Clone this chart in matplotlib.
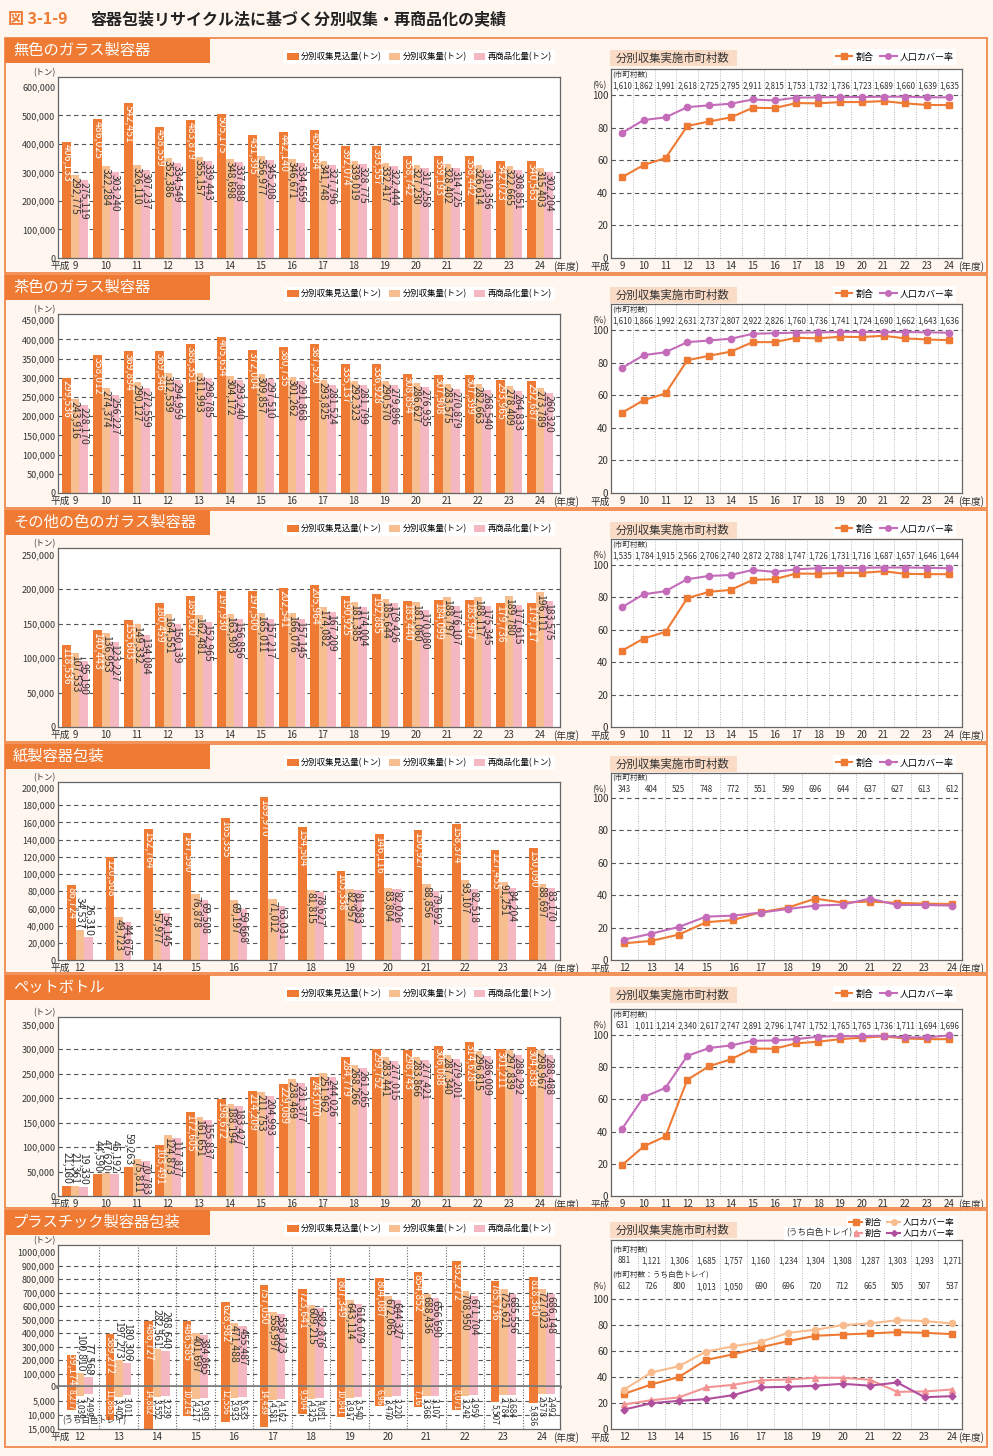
import numpy as np
import matplotlib.pyplot as plt
from matplotlib.patches import Rectangle
from matplotlib.lines import Line2D
from matplotlib.transforms import offset_copy

plt.rcParams['font.family'] = ['Noto Sans CJK JP', 'DejaVu Sans']

W, H = 993, 1456

ORANGE = '#ee7a33'
PEACH = '#f7bf90'
PINK = '#f5b8c2'
PURPLE = '#c46cb9'
LIGHT_OR = '#f8bc8e'
SALMON = '#f29494'
VIOLET = '#b14f9f'
DARK = '#333333'
BG = '#fef6ef'

# ---------------- data ----------------
years_h9 = list(range(9, 25))
years_h12 = list(range(12, 25))

# 無色のガラス製容器
clear_plan = [406133, 486025, 542451, 458559, 483879, 505175, 431395, 442140,
              450584, 392074, 393557, 358742, 359193, 358442, 342023, 340563]
clear_coll = [292775, 322284, 326110, 352386, 355157, 348698, 356977, 346671,
              341748, 339019, 332417, 327230, 328402, 326614, 322665, 315403]
clear_reco = [275119, 303240, 307237, 334549, 339443, 337888, 345208, 334659,
              327796, 328775, 322444, 317258, 314725, 310356, 308851, 302204]
clear_rate = [49.5, 57.1, 61.3, 81.0, 83.8, 86.3, 92.2, 92.0, 95.1, 94.9, 95.7, 95.7, 96.3, 94.9, 93.9, 93.9]
clear_cover = [76.7, 84.7, 86.3, 92.6, 93.7, 94.7, 97.3, 96.7, 98.4, 98.6, 98.8, 98.8, 99.0, 99.0, 98.6, 98.6]
clear_towns = [1610, 1862, 1991, 2618, 2725, 2795, 2911, 2815, 1753, 1732, 1736, 1723, 1689, 1660, 1639, 1635]

# 茶色のガラス製容器
brown_plan = [299536, 358012, 369894, 369346, 388351, 405634, 372004, 380735,
              387520, 335137, 336928, 308854, 307908, 307399, 293965, 292687]
brown_coll = [243916, 274374, 290127, 312539, 311993, 304172, 309857, 301262,
              293825, 292323, 290570, 286627, 283575, 282663, 278409, 273789]
brown_reco = [228170, 256227, 272559, 294959, 298785, 293240, 297510, 291868,
              281524, 281799, 279896, 276935, 270879, 268540, 264833, 260320]
brown_rate = [49.2, 57.0, 61.1, 81.5, 84.2, 86.8, 92.6, 92.6, 95.3, 94.9, 95.9, 95.7, 96.5, 94.9, 94.2, 93.8]
brown_cover = [76.7, 84.6, 86.4, 92.6, 93.6, 94.7, 97.7, 98.1, 98.4, 98.6, 98.8, 98.8, 98.8, 98.8, 98.6, 98.4]
brown_towns = [1610, 1866, 1992, 2631, 2737, 2807, 2922, 2826, 1760, 1736, 1741, 1724, 1690, 1662, 1643, 1636]

# その他の色のガラス製容器
other_plan = [118536, 140443, 155603, 180459, 189620, 197930, 197500, 202541,
              205964, 190925, 192885, 183440, 184099, 183967, 179736, 179717]
other_coll = [107533, 136953, 149332, 164551, 162481, 163903, 165011, 166076,
              174082, 181385, 185644, 181060, 188797, 188117, 189780, 196111]
other_reco = [95190, 123227, 134084, 150139, 152965, 156856, 157217, 157145,
              167209, 174004, 179426, 170080, 176107, 175345, 177615, 183575]
other_rate = [47.0, 54.6, 58.7, 79.5, 83.4, 84.6, 90.8, 91.2, 94.7, 94.5, 95.1, 95.1, 96.1, 94.5, 94.3, 94.3]
other_cover = [73.9, 81.9, 83.8, 91.2, 93.2, 93.8, 96.9, 95.7, 97.3, 98.0, 98.2, 98.2, 98.4, 98.4, 98.2, 98.0]
other_towns = [1535, 1784, 1915, 2566, 2706, 2740, 2872, 2788, 1747, 1726, 1731, 1716, 1687, 1657, 1646, 1644]

# 紙製容器包装
paper_plan = [86724, 120308, 152764, 147590, 165355, 189970, 154504, 103338, 146116, 150927, 158374, 127455, 130090]
paper_coll = [34537, 49723, 57977, 76878, 69197, 71012, 81815, 82957, 83804, 88856, 93107, 91251, 88697]
paper_reco = [26310, 44675, 54145, 69508, 59668, 63031, 78627, 81383, 82026, 79692, 82518, 84204, 83170]
paper_rate = [10.3, 11.8, 15.7, 23.3, 24.7, 29.5, 32.4, 37.9, 35.5, 36.1, 35.3, 34.8, 34.6]
paper_cover = [12.6, 16.3, 20.4, 26.8, 27.4, 29.3, 31.5, 33.6, 34.2, 37.9, 34.0, 34.0, 33.6]
paper_towns = [343, 404, 525, 748, 772, 551, 599, 696, 644, 637, 627, 613, 612]

# ペットボトル
pet_plan = [21180, 44590, 59263, 103491, 172605, 198672, 214209, 229089,
            243070, 284779, 299752, 298743, 306088, 314628, 301211, 304838]
pet_coll = [21361, 47620, 75811, 124873, 161651, 188194, 211753, 238469,
            251962, 268266, 283441, 283866, 287340, 296815, 297839, 298967]
pet_reco = [19330, 45192, 70783, 117877, 155837, 183427, 204993, 231377,
            244026, 261265, 277015, 277421, 279201, 286009, 288292, 288488]
pet_rate = [19.1, 30.8, 37.0, 72.1, 80.5, 84.8, 91.4, 91.4, 94.7, 95.7, 97.3, 98.2, 99.0, 97.7, 97.3, 97.3]
pet_cover = [41.5, 61.4, 67.1, 86.9, 91.8, 93.4, 96.3, 96.5, 97.3, 98.8, 99.2, 99.2, 99.4, 98.4, 98.4, 99.6]
pet_towns = [631, 1011, 1214, 2340, 2617, 2747, 2891, 2796, 1747, 1752, 1765, 1765, 1736, 1711, 1694, 1696]

# プラスチック製容器包装
plastic_plan = [239174, 389272, 486727, 486585, 628982, 757050, 723641, 807349, 804087, 854852, 932272, 785736, 818380]
plastic_coll = [100810, 197273, 282561, 401697, 471488, 558997, 609215, 643114, 672065, 688436, 708950, 725621, 727023]
plastic_reco = [77568, 180306, 268640, 384865, 455487, 538123, 582876, 616079, 644327, 656690, 671704, 685556, 686148]
tray_plan = [8277, 11865, 14882, 10214, 12556, 14439, 9504, 10841, 6960, 7167, 8071, 5507, 5636]
tray_coll = [3039, 3402, 3552, 4217, 3933, 4581, 4325, 3917, 3470, 3368, 3242, 2784, 2578]
tray_reco = [2499, 3011, 3239, 3993, 3633, 4162, 4051, 3540, 3220, 3107, 2959, 2684, 2492]
plastic_rate = [27.0, 34.2, 39.8, 53.0, 57.3, 62.7, 67.4, 71.5, 72.5, 73.3, 74.3, 73.8, 72.8]
plastic_cover = [30.3, 43.4, 48.1, 59.4, 63.5, 66.8, 73.8, 76.1, 79.7, 81.0, 83.5, 82.8, 81.0]
tray_rate = [18.8, 22.1, 24.2, 31.9, 33.9, 37.3, 38.0, 39.3, 39.3, 37.8, 28.5, 28.8, 30.3]
tray_cover = [14.9, 19.8, 21.6, 22.9, 26.0, 31.9, 32.4, 33.2, 34.7, 33.2, 35.7, 24.4, 25.2]
plastic_towns = [881, 1121, 1306, 1685, 1757, 1160, 1234, 1304, 1308, 1287, 1303, 1293, 1271]
tray_towns = [612, 726, 800, 1013, 1050, 690, 696, 720, 712, 665, 505, 507, 537]

bar_names = ['分別収集見込量(トン)', '分別収集量(トン)', '再商品化量(トン)']

# ---------------- figure ----------------
fig = plt.figure(figsize=(W / 100, H / 100), dpi=100)
fig.patch.set_facecolor(BG)
renderer = fig.canvas.get_renderer()


def frac(x0, y0, x1, y1):
    return [x0 / W, 1 - y1 / H, (x1 - x0) / W, (y1 - y0) / H]


def fig_box(x0, y0, x1, y1, **kw):
    fig.add_artist(Rectangle((x0 / W, 1 - y1 / H), (x1 - x0) / W, (y1 - y0) / H,
                             transform=fig.transFigure, **kw))


def frame(top, bottom, title):
    fig_box(5, top, 987, bottom, fill=False, ec='#f0894a', lw=1.3)
    fig_box(5, top, 210, top + 25, fc=ORANGE, ec='none')
    fig.text(13 / W, 1 - (top + 12.5) / H, title, color='white', fontsize=11, va='center')
    fig_box(610, top + 12, 737, top + 28, fc='#f9dbc6', ec='none')
    fig.text(616 / W, 1 - (top + 20) / H, '分別収集実施市町村数', color=DARK, fontsize=8.2, va='center')


def style_spines(ax):
    for s in ax.spines.values():
        s.set_color('#666666')
        s.set_linewidth(0.9)


def bar_axes(box, ytop, step, xlim, top_label=None):
    ax = fig.add_axes(frac(*box))
    ax.set_facecolor('white')
    ax.set_xlim(*xlim)
    ax.set_ylim(0, ytop)
    ticks = np.arange(0, ytop + 1, step)
    labels = [f'{int(t):,}' for t in ticks]
    if top_label:
        labels[-1] = top_label
    ax.set_yticks(ticks, labels)
    for t in ticks[1:-1]:
        ax.axhline(t, color='#555555', lw=0.8, ls=(0, (4, 3)), zorder=1)
    ax.tick_params(length=0, labelsize=6.5, pad=2, colors=DARK)
    ax.text(-0.028, 1.0, '(トン)', transform=ax.transAxes, ha='center', va='bottom', fontsize=6, color=DARK)
    style_spines(ax)
    return ax


def year_ticks(ax, years, left_x, right_x, ticks=None, pad=2):
    ax.set_xticks(years if ticks is None else ticks, [str(y) for y in years])
    ax.tick_params(axis='x', length=0, labelsize=7, pad=pad)
    ax.annotate('平成', xy=(left_x, 0), xycoords='axes fraction', xytext=(0, -pad),
                textcoords='offset points', ha='center', va='top', fontsize=7, color=DARK)
    ax.annotate('(年度)', xy=(right_x, 0), xycoords='axes fraction', xytext=(0, -pad),
                textcoords='offset points', ha='left', va='top', fontsize=7, color=DARK)


def value_label(ax, x, v, inside_color, fs, lower=False, force_inside=False):
    base = ax.transData
    t = ax.text(x, v, f'{v:,}', rotation=270, ha='center', va='top', fontsize=fs,
                color=inside_color, zorder=3, clip_on=False,
                transform=offset_copy(base, fig=fig, y=-2, units='dots'))
    length = t.get_window_extent(renderer).height
    bar_px = abs(base.transform((0, v))[1] - base.transform((0, 0))[1])
    if lower:
        if inside_color == 'white' and bar_px >= 0.75 * length:
            t.set_y(0)
        else:
            t.set_color(DARK)
    elif bar_px < length + 2:
        if force_inside:
            t.set_y(0)
            t.set_va('bottom')
            t.set_transform(offset_copy(base, fig=fig, y=1, units='dots'))
        else:
            t.set_va('bottom')
            t.set_color(DARK)
            t.set_transform(offset_copy(base, fig=fig, y=2, units='dots'))


def draw_bars(ax, plan, coll, reco, width, fs=7.5, lower=False, force_plan=False):
    x = np.arange(len(plan))
    bars = [ax.bar(x - width, plan, width, color=ORANGE, zorder=2),
            ax.bar(x, coll, width, color=PEACH, zorder=2),
            ax.bar(x + width, reco, width, color=PINK, zorder=2)]
    for off, vals, col in [(-width, plan, 'white'), (0, coll, DARK), (width, reco, DARK)]:
        for xi, v in zip(x + off, vals):
            value_label(ax, xi, v, col, fs, lower, force_plan and col == 'white')
    return bars


def bar_legend(ax, bars, top):
    ax.legend(bars, bar_names, loc='center right', bbox_to_anchor=(559 / W, 1 - (top + 19) / H),
              bbox_transform=fig.transFigure, ncol=3, fontsize=6, frameon=True, facecolor='white',
              edgecolor='none', framealpha=1, fancybox=False, handlelength=1.4, handleheight=0.9,
              columnspacing=0.8, handletextpad=0.3, borderpad=0.35)


def line_axes(box, years, ytop, xpad):
    ax = fig.add_axes(frac(*box))
    ax.set_facecolor('white')
    ax.set_xlim(years[0] - xpad[0], years[-1] + xpad[1])
    ax.set_ylim(0, ytop)
    ax.set_yticks(range(0, 101, 20))
    ax.tick_params(length=0, labelsize=7, pad=2, colors=DARK)
    for g in range(20, 101, 20):
        ax.axhline(g, color='#555555', lw=0.8, ls=(0, (4, 3)), zorder=1)
    for m in years[:-1]:
        ax.axvline(m + 0.5, color='#b8b8b8', lw=0.7, ls=(0, (1, 1.5)), zorder=0.5)
    style_spines(ax)
    year_ticks(ax, years, -0.032, 0.989, pad=2.5)
    return ax


def town_row(ax, years, towns, y, head, head_y):
    ax.text(0.004, head_y, head, transform=ax.get_yaxis_transform(), fontsize=5.5,
            va='center', ha='left', color=DARK)
    for yr, c in zip(years, towns):
        ax.text(yr, y, f'{c:,}', fontsize=5.7, ha='center', va='center', color=DARK)


def line_legend(ax, top):
    h = [Line2D([], [], color=ORANGE, marker='s', ms=4, lw=1.5),
         Line2D([], [], color=PURPLE, marker='o', ms=4, lw=1.5)]
    ax.legend(h, ['割合', '人口カバー率'], loc='center right', bbox_to_anchor=(961 / W, 1 - (top + 19) / H),
              bbox_transform=fig.transFigure, ncol=2, fontsize=6.5, frameon=True, facecolor='white',
              edgecolor='none', framealpha=1, fancybox=False, handlelength=1.8,
              columnspacing=0.8, handletextpad=0.3, borderpad=0.35)


def standard_panel(top, bottom, title, years, plan, coll, reco, rate, cover, towns,
                   bar_box, bar_ytop, bar_step, line_box, line_ytop):
    frame(top, bottom, title)
    n = len(years)
    wide = n > 13
    ax = bar_axes(bar_box, bar_ytop, bar_step, (-0.55, n - 0.35) if wide else (-0.57, n - 0.53))
    bars = draw_bars(ax, plan, coll, reco, 0.275 if wide else 0.223)
    year_ticks(ax, years, 0.004, 0.986, ticks=np.arange(n))
    bar_legend(ax, bars, top)

    lax = line_axes(line_box, years, line_ytop, (0.5, 0.6) if wide else (0.48, 0.37))
    lax.plot(years, rate, color=ORANGE, marker='s', ms=4.5, lw=1.5, zorder=3)
    lax.plot(years, cover, color=PURPLE, marker='o', ms=4.5, lw=1.5, zorder=3)
    town_row(lax, years, towns, 105.5, '(市町村数)', 112.5)
    lax.text(-0.012, 105.5, '(%)', transform=lax.get_yaxis_transform(), ha='right', va='center',
             fontsize=6.5, color=DARK)
    line_legend(lax, top)


# title
fig.text(8 / W, 1 - 19 / H, '図 3-1-9', color=ORANGE, fontsize=11.5, va='center', fontweight='bold')
fig.text(90 / W, 1 - 19 / H, '容器包装リサイクル法に基づく分別収集・再商品化の実績',
         color='#222222', fontsize=11.5, va='center', fontweight='bold')

standard_panel(38, 273, '無色のガラス製容器', years_h9, clear_plan, clear_coll, clear_reco,
               clear_rate, clear_cover, clear_towns, (58, 77, 560, 258), 635000, 100000,
               (611, 69, 962, 258), 116)
standard_panel(275, 508, '茶色のガラス製容器', years_h9, brown_plan, brown_coll, brown_reco,
               brown_rate, brown_cover, brown_towns, (58, 314, 560, 493), 466000, 50000,
               (611, 304, 962, 493), 116)
standard_panel(510, 742, 'その他の色のガラス製容器', years_h9, other_plan, other_coll, other_reco,
               other_rate, other_cover, other_towns, (58, 548, 560, 727), 260000, 50000,
               (611, 539, 962, 727), 116)
standard_panel(744, 973, '紙製容器包装', years_h12, paper_plan, paper_coll, paper_reco,
               paper_rate, paper_cover, paper_towns, (58, 782, 560, 960), 207000, 20000,
               (611, 773, 962, 960), 115.5)
standard_panel(975, 1208, 'ペットボトル', years_h9, pet_plan, pet_coll, pet_reco,
               pet_rate, pet_cover, pet_towns, (58, 1017, 560, 1196), 366000, 50000,
               (611, 1009, 962, 1196), 116)

# ---------------- プラスチック製容器包装 ----------------
top, bottom = 1210, 1447
frame(top, bottom, 'プラスチック製容器包装')
n = len(years_h12)
xl = (-0.57, n - 0.53)
up = bar_axes((58, 1245, 560, 1387), 1052000, 100000, xl, top_label='1000,000')
up.spines['bottom'].set_visible(False)
up.set_xticks([])
bars = draw_bars(up, plastic_plan, plastic_coll, plastic_reco, 0.223, force_plan=True)
bar_legend(up, bars, top)

lo = fig.add_axes(frac(58, 1387, 560, 1429))
lo.set_facecolor('white')
lo.set_xlim(*xl)
lo.set_ylim(15000, 0)
lo.set_yticks([5000, 10000, 15000], ['5,000', '10,000', '15,000'])
lo.tick_params(length=0, labelsize=6.5, pad=2, colors=DARK)
for t in [5000, 10000]:
    lo.axhline(t, color='#555555', lw=0.8, ls=(0, (4, 3)), zorder=1)
style_spines(lo)
lo.spines['top'].set_visible(False)
draw_bars(lo, tray_plan, tray_coll, tray_reco, 0.223, fs=6, lower=True)
year_ticks(lo, years_h12, 0.004, 0.986, ticks=np.arange(n))
lo.text(0.008, 0.2, '(うち白色トレイ)', transform=lo.transAxes, fontsize=6, va='center', color=DARK, zorder=4)
for a in (up, lo):
    for i in range(n - 1):
        a.axvline(i + 0.5, color='#666666', lw=0.8, ls=(0, (1, 1.5)), zorder=1)
up.axhline(0, color='#7a7a7a', lw=2.6, zorder=4, clip_on=False)

lax = line_axes((611, 1240, 962, 1429), years_h12, 145, (0.48, 0.37))
lax.plot(years_h12, plastic_rate, color=ORANGE, marker='s', ms=4.5, lw=1.5, zorder=3)
lax.plot(years_h12, plastic_cover, color=LIGHT_OR, marker='o', ms=4.5, lw=1.5, zorder=3)
lax.plot(years_h12, tray_rate, color=SALMON, marker='^', ms=4.5, lw=1.5, zorder=3)
lax.plot(years_h12, tray_cover, color=VIOLET, marker='D', ms=3.5, lw=1.5, zorder=3)
town_row(lax, years_h12, plastic_towns, 129, '(市町村数)', 137.5)
town_row(lax, years_h12, tray_towns, 109.2, '(市町村数：うち白色トレイ)', 117.5)
lax.text(-0.012, 109.2, '(%)', transform=lax.get_yaxis_transform(), ha='right', va='center',
         fontsize=6.5, color=DARK)
h = [Line2D([], [], color=ORANGE, marker='s', ms=4, lw=1.5),
     Line2D([], [], color=SALMON, marker='^', ms=4, lw=1.5),
     Line2D([], [], color=LIGHT_OR, marker='o', ms=4, lw=1.5),
     Line2D([], [], color=VIOLET, marker='D', ms=3, lw=1.5)]
lax.legend(h, ['割合', '割合', '人口カバー率', '人口カバー率'], loc='center right',
           bbox_to_anchor=(961 / W, 1 - 1228 / H), bbox_transform=fig.transFigure, ncol=2,
           fontsize=6.2, frameon=True, facecolor='white', edgecolor='none', framealpha=1,
           fancybox=False, handlelength=1.5, columnspacing=0.6, handletextpad=0.3,
           borderpad=0.25, labelspacing=0.15)
fig.text(852 / W, 1 - 1233 / H, '(うち白色トレイ)', fontsize=6.2, va='center', ha='right', color=DARK,
         bbox=dict(fc='white', ec='none', pad=1.5))

fig.savefig('out.png', dpi=100, facecolor=fig.get_facecolor())
